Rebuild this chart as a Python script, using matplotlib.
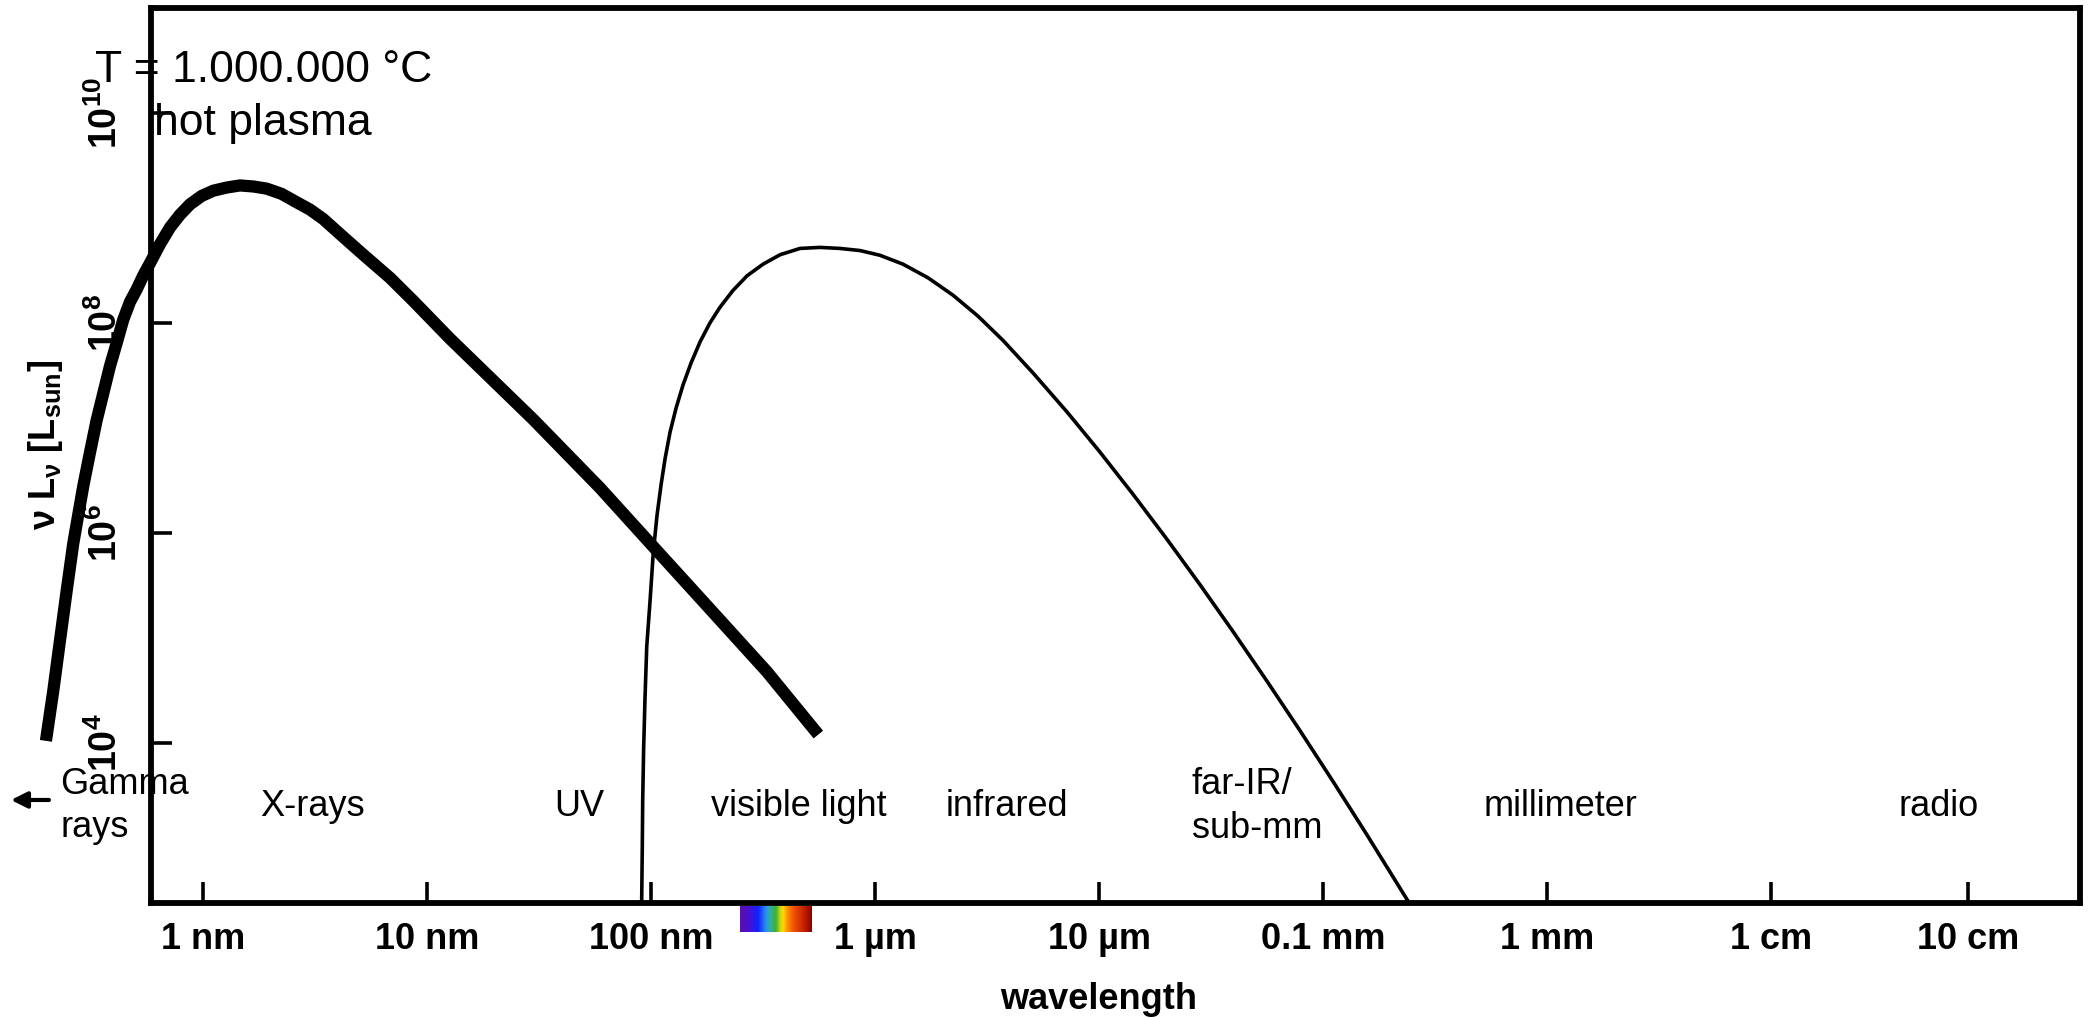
import numpy as np
import matplotlib.pyplot as plt
from matplotlib.colors import LinearSegmentedColormap
from matplotlib.ticker import NullLocator

plt.rcParams['font.family'] = ['Liberation Sans', 'DejaVu Sans']
plt.rcParams['mathtext.fontset'] = 'custom'
plt.rcParams['mathtext.rm'] = 'Liberation Sans'
plt.rcParams['mathtext.bf'] = 'Liberation Sans:bold'
plt.rcParams['mathtext.it'] = 'Liberation Sans:italic'

# hot plasma spectrum: log10(wavelength / nm), log10(nu L_nu / L_sun)
plasma_logwl = [-0.701, -0.668, -0.638, -0.609, -0.579, -0.557, -0.534, -0.505, -0.475,
                -0.445, -0.415, -0.385, -0.356, -0.326, -0.296, -0.267, -0.234, -0.192,
                -0.147, -0.103, -0.058, -0.006, 0.046, 0.106, 0.165, 0.225, 0.284,
                0.351, 0.418, 0.478, 0.537, 0.626, 0.716, 0.835, 0.939, 1.103, 1.475,
                1.772, 2.010, 2.219, 2.517, 2.747]
plasma_loglum = [4.02, 4.50, 4.98, 5.44, 5.90, 6.17, 6.45, 6.76, 7.07,
                 7.33, 7.59, 7.81, 8.03, 8.20, 8.32, 8.45, 8.58, 8.75,
                 8.91, 9.03, 9.13, 9.21, 9.26, 9.29, 9.31, 9.30, 9.28,
                 9.23, 9.15, 9.08, 8.99, 8.82, 8.65, 8.43, 8.21, 7.85, 7.08,
                 6.43, 5.87, 5.38, 4.68, 4.08]

# thermal (thin) curve
thermal_logwl = [1.958, 1.961, 1.963, 1.967, 1.973, 1.981, 1.996, 2.010, 2.027, 2.045,
                 2.063, 2.085, 2.112, 2.143, 2.179, 2.219, 2.263, 2.308, 2.366, 2.429,
                 2.500, 2.576, 2.665, 2.754, 2.844, 2.933, 3.022, 3.125, 3.237, 3.348,
                 3.460, 3.571, 3.705, 3.857, 4.004, 4.152, 4.304, 4.451, 4.598, 4.750,
                 4.897, 5.045, 5.196, 5.395]
thermal_loglum = [2.42, 2.98, 3.46, 3.93, 4.41, 4.92, 5.36, 5.81, 6.17, 6.46,
                  6.71, 6.96, 7.19, 7.41, 7.62, 7.82, 8.00, 8.15, 8.31, 8.45,
                  8.56, 8.65, 8.71, 8.72, 8.71, 8.69, 8.645, 8.56, 8.43, 8.265,
                  8.065, 7.835, 7.525, 7.153, 6.771, 6.368, 5.938, 5.507, 5.062, 4.588,
                  4.118, 3.632, 3.125, 2.44]

wl_ticks = [0, 1, 2, 3, 4, 5, 6, 7, 7.88]
wl_labels = ['1 nm', '10 nm', '100 nm', '1 µm', '10 µm', '0.1 mm', '1 mm', '1 cm', '10 cm']
lum_ticks = [1e4, 1e6, 1e8, 1e10]
lum_labels = [r'$\mathbf{10^{4}}$', r'$\mathbf{10^{6}}$', r'$\mathbf{10^{8}}$', r'$\mathbf{10^{10}}$']

band_names = ['X-rays', 'UV', 'visible light', 'infrared', 'millimeter', 'radio']
band_pos = [0.49, 1.68, 2.66, 3.59, 6.06, 7.75]

rainbow = [(0.0, '#5a10a8'), (0.12, '#4a10d0'), (0.25, '#1020ff'), (0.36, '#2890f0'),
           (0.42, '#30b0a0'), (0.5, '#40b030'), (0.56, '#c8d810'), (0.6, '#ffd800'),
           (0.66, '#ff9000'), (0.75, '#f05000'), (0.88, '#c82400'), (1.0, '#8c0000')]

fig = plt.figure(figsize=(20.91, 10.18), dpi=100)
ax = fig.add_axes([0.07221, 0.11267, 0.92253, 0.87947])

ax.plot(plasma_logwl, 10 ** np.array(plasma_loglum), color='black', lw=8.8,
        solid_capstyle='butt', clip_on=False, zorder=5)
ax.plot(thermal_logwl, 10 ** np.array(thermal_loglum), color='black', lw=2.6, zorder=4)

ax.set_yscale('log')
ax.set_xlim(-0.232, 8.379)
ax.set_ylim(10 ** 2.473, 10 ** 11.0)

for s in ax.spines.values():
    s.set_linewidth(4.2)

ax.set_xticks(wl_ticks, wl_labels, fontsize=26, fontweight='bold')
ax.set_yticks(lum_ticks, lum_labels, fontsize=27, rotation=90, va='center')
ax.yaxis.set_minor_locator(NullLocator())
ax.xaxis.set_minor_locator(NullLocator())
ax.tick_params(direction='in', length=15, width=2.6, top=False, right=False)
ax.tick_params(axis='x', pad=13.5)
ax.tick_params(axis='y', pad=18.5)

ax.set_ylabel(r'$\mathbf{ν\ L_{ν}\ [L_{sun}]}$', fontsize=26)
ax.yaxis.set_label_coords(-0.0446, 0.512)
ax.set_xlabel('wavelength', fontsize=26, fontweight='bold')
ax.xaxis.set_label_coords(0.4914, -0.0879)

trans = ax.get_xaxis_transform()
ax.text(-0.482, 0.9173, 'T = 1.000.000 °C', transform=trans, fontsize=32, va='baseline')
ax.text(-0.219, 0.8582, 'hot plasma', transform=trans, fontsize=32, va='baseline')

# two-line labels: y is the baseline of the last line
ax.text(-0.638, 0.0738, 'Gamma\nrays', transform=trans, fontsize=26, va='baseline',
        linespacing=1.32)
ax.text(4.414, 0.0728, 'far-IR/\nsub-mm', transform=trans, fontsize=26, va='baseline',
        linespacing=1.32)
for name, pos in zip(band_names, band_pos):
    ax.text(pos, 0.0975, name, transform=trans, fontsize=26, ha='center', va='baseline')

ax.annotate('', xy=(-0.857, 0.1154), xytext=(-0.6875, 0.1154), xycoords=trans,
            textcoords=trans, annotation_clip=False,
            arrowprops=dict(arrowstyle='-|>', color='black', lw=3, mutation_scale=24,
                            shrinkA=0, shrinkB=0))

# rainbow bar under the visible range
cmap = LinearSegmentedColormap.from_list('spectrum', rainbow)
bar = ax.inset_axes([2.397, -0.0325, 0.317, 0.029], transform=trans)
bar.imshow(np.linspace(0, 1, 256)[np.newaxis, :], aspect='auto', cmap=cmap)
bar.set_axis_off()

fig.savefig('out.png', dpi=100)
